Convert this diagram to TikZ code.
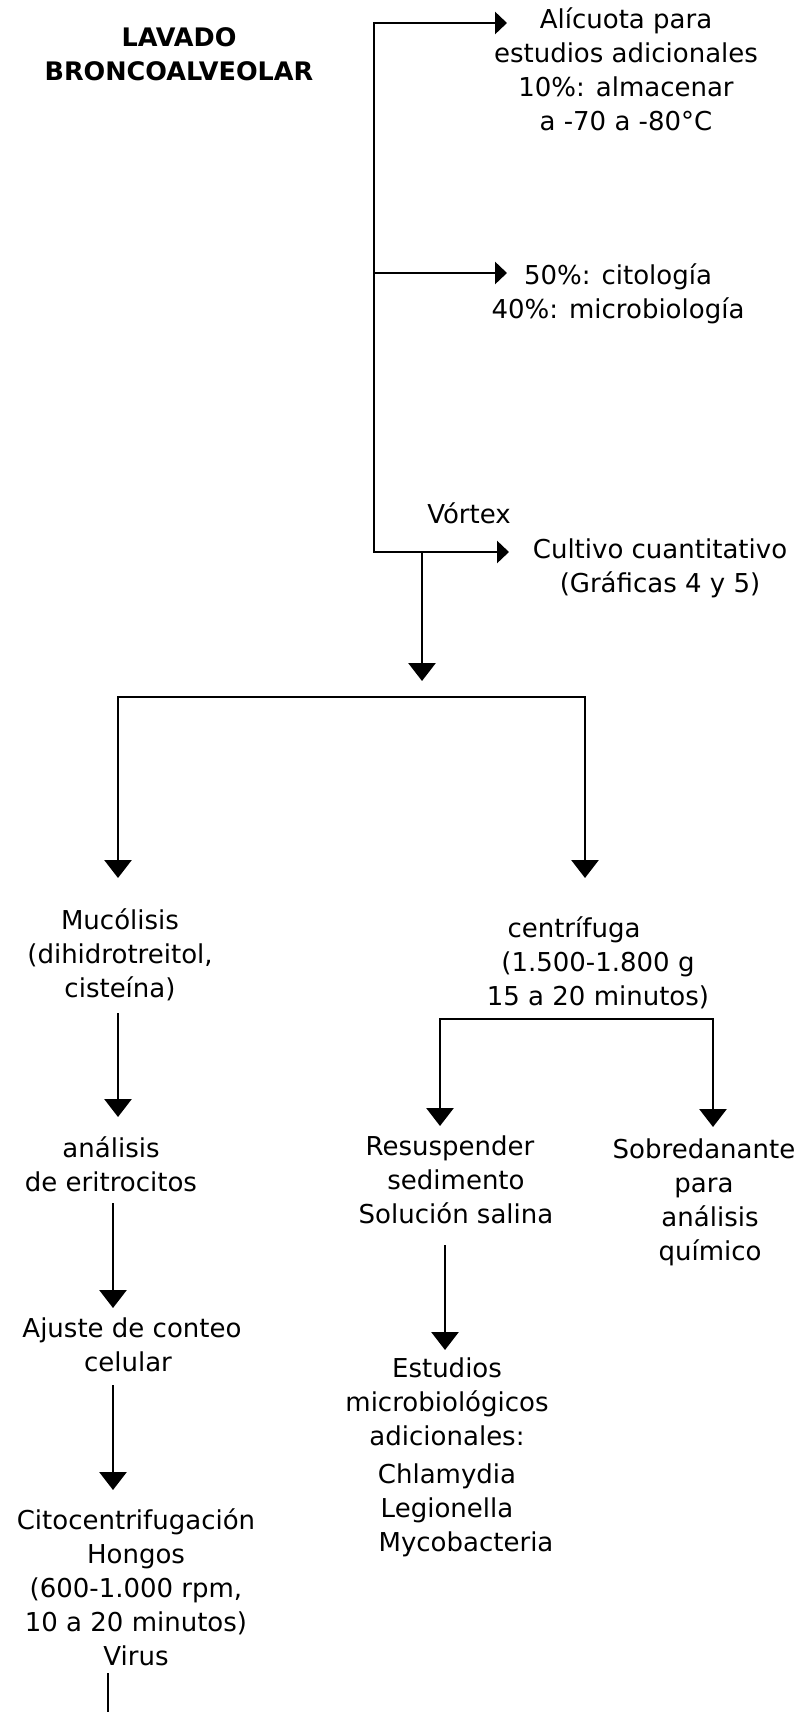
\documentclass[tikz,border=0pt]{standalone}
\usepackage{fontspec}
\setmainfont{DejaVu Sans}
\usetikzlibrary{arrows.meta}
\begin{document}
\begin{tikzpicture}[x=1bp,y=-1bp,
  conn/.style={line width=2.9bp, draw=black, line join=miter},
  harrow/.style={conn, -{Triangle[length=12bp,width=22bp]}},
  varrow/.style={conn, -{Triangle[length=18bp,width=27bp]}},
  txt/.style={font=\fontsize{26bp}{34bp}\selectfont, align=center, inner sep=0pt, anchor=north,
    execute at begin node=\strut, execute at end node=\strut},
  ttl/.style={txt, font=\fontsize{25.5bp}{34bp}\selectfont\bfseries}
]
\fill[white] (0,0) rectangle (809,1712);
\useasboundingbox (0,0) rectangle (809,1712);

% text nodes
\node[ttl] (title) at (179,27) {LAVADO\\BRONCOALVEOLAR};
\node[txt] (alic) at (626,8) {Alícuota para\\estudios adicionales\\10\%: almacenar\\a -70 a -80°C};
\node[txt] (cito) at (618,264) {50\%: citología\\40\%: microbiología};
\node[txt] (vortex) at (469,499) {Vórtex};
\node[txt] (cult) at (660,539) {Cultivo cuantitativo\\(Gráficas 4 y 5)};
\node[txt] (muco) at (120,908) {Mucólisis\\(dihidrotreitol,\\cisteína)};
\node[txt] (centri) at (598,916) {centrífuga\hspace*{48bp}\\(1.500-1.800 g\hspace*{26bp}\\15 a 20 minutos)};
\node[txt] (anal) at (111,1136) {análisis\\de eritrocitos};
\node[txt] (resus) at (456,1136) {Resuspender\hspace*{12bp}\\sedimento\hspace*{12bp}\\Solución salina};
\node[txt] (sobre) at (704,1139) {Sobredanante\\para\\\hspace*{12bp}análisis\\\hspace*{12bp}químico};
\node[txt] (ajuste) at (132,1318) {Ajuste de conteo\\celular\hspace*{8bp}};
\node[txt] (estud) at (447,1358) {Estudios\\microbiológicos\\adicionales:\\[4bp]Chlamydia\\Legionella\\\hspace*{38bp}Mycobacteria};
\node[txt] (citoc) at (136,1508) {Citocentrifugación\\Hongos\\(600-1.000 rpm,\\10 a 20 minutos)\\Virus};

% connector points
\coordinate (j0) at (374,23);
\coordinate (j1) at (374,273);
\coordinate (j2) at (374,552);
\coordinate (e1) at (507,23);
\coordinate (e2) at (507,273);
\coordinate (e3) at (509,552);
\coordinate (v0) at (422,552);
\coordinate (v1) at (422,681);
\coordinate (bL) at (118,697);
\coordinate (bR) at (585,697);
\coordinate (tL) at (118,878);
\coordinate (tR) at (585,878);
\coordinate (m0) at (118,1013);
\coordinate (m1) at (118,1117);
\coordinate (cL) at (440,1019);
\coordinate (cR) at (713,1019);
\coordinate (cLt) at (440,1126);
\coordinate (cRt) at (713,1127);
\coordinate (a0) at (113,1203);
\coordinate (a1) at (113,1308);
\coordinate (k0) at (113,1385);
\coordinate (k1) at (113,1490);
\coordinate (r0) at (445,1245);
\coordinate (r1) at (445,1350);
\coordinate (z0) at (108,1673);
\coordinate (z1) at (108,1712);

% connectors
\draw[harrow] (j2) -- (j0) -- (e1);
\draw[harrow] (j1) -- (e2);
\draw[harrow] (j0) -- (j2) -- (e3);
\draw[varrow] (v0) -- (v1);
\draw[varrow] (bR) -- (bL) -- (tL);
\draw[varrow] (bL) -- (bR) -- (tR);
\draw[varrow] (m0) -- (m1);
\draw[varrow] (cR) -- (cL) -- (cLt);
\draw[varrow] (cL) -- (cR) -- (cRt);
\draw[varrow] (a0) -- (a1);
\draw[varrow] (k0) -- (k1);
\draw[varrow] (r0) -- (r1);
\draw[conn] (z0) -- (z1);
\end{tikzpicture}
\end{document}
